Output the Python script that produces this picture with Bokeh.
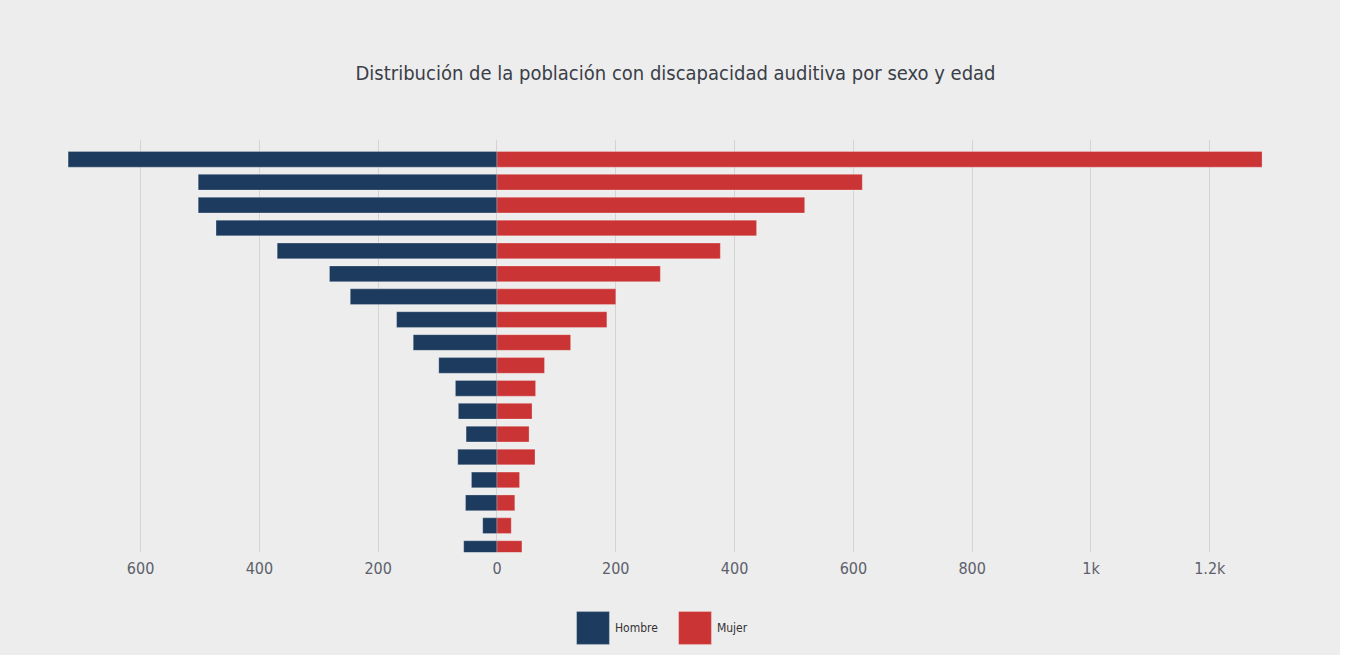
from bokeh.plotting import figure
from bokeh.layouts import column
from bokeh.models import (Range1d, FixedTicker, CustomJSTickFormatter, Legend,
                          LegendItem, Title, ColumnDataSource)
from bokeh.embed import file_html
from bokeh.resources import INLINE

# ---- data (top to bottom) ----
grupos = ["85+", "80-84", "75-79", "70-74", "65-69", "60-64", "55-59", "50-54",
          "45-49", "40-44", "35-39", "30-34", "25-29", "20-24", "15-19", "10-14",
          "5-9", "0-4"]
hombre = [722, 503, 503, 473, 370, 282, 247, 169, 141, 98, 70, 65, 52, 66, 43, 53, 24, 56]
mujer = [1288, 615, 518, 437, 376, 275, 200, 185, 124, 80, 65, 59, 54, 64, 38, 30, 24, 42]
ticks = [-600, -400, -200, 0, 200, 400, 600, 800, 1000, 1200]
series_names = ["Hombre", "Mujer"]

FONT = "DejaVu Sans Condensed"
BG = "#ededed"
C_H = "#1c3b5e"
C_M = "#cb3434"

pos = list(range(len(grupos)))
src = ColumnDataSource(dict(
    y=pos,
    grupo=grupos,
    h=[-v for v in hombre],
    m=mujer,
))

p = figure(width=1340, height=585, output_backend="svg", toolbar_location=None,
           x_range=Range1d(-768.5, 1386.4), y_range=Range1d(17.17, -0.865),
           min_border_left=40, min_border_right=20, min_border_top=139,
           min_border_bottom=33)
p.background_fill_color = BG
p.border_fill_color = BG
p.outline_line_color = None
p.styles = {"background-color": BG}

rh = p.hbar(y="y", left=0, right="h", height=0.685, source=src,
            fill_color=C_H, line_color="#ffffff", line_alpha=0.25, line_width=1)
rm = p.hbar(y="y", left=0, right="m", height=0.685, source=src,
            fill_color=C_M, line_color="#ffffff", line_alpha=0.25, line_width=1)

p.yaxis.visible = False
p.ygrid.visible = False

p.xaxis.ticker = FixedTicker(ticks=ticks)
p.xaxis.formatter = CustomJSTickFormatter(code="""
var v = Math.abs(tick);
if (v >= 1000) { return (v/1000) + 'k'; }
return v.toString();
""")
p.xaxis.axis_line_color = None
p.xaxis.major_tick_line_color = None
p.xaxis.minor_tick_line_color = None
p.xaxis.major_tick_out = 0
p.xaxis.major_tick_in = 0
p.xaxis.minor_tick_out = 0
p.xaxis.major_label_text_font = FONT
p.xaxis.major_label_text_font_size = "16px"
p.xaxis.major_label_text_color = "#5c606b"
p.xaxis.major_label_standoff = 6

p.xgrid.ticker = FixedTicker(ticks=ticks)
p.xgrid.grid_line_color = "#d4d4d4"
p.xgrid.grid_line_width = 1

title = Title(text="Distribución de la población con discapacidad auditiva por sexo y edad",
              align="left", text_font=FONT, text_font_size="20px",
              text_font_style="normal", text_color="#3a3e48", standoff=110, offset=315)
p.add_layout(title, "above")

# ---- legend strip ----
lg = figure(width=1340, height=70, output_backend="svg", toolbar_location=None,
            x_range=Range1d(0, 1), y_range=Range1d(0, 1),
            x_axis_type=None, y_axis_type=None,
            min_border_left=0, min_border_right=0, min_border_top=0, min_border_bottom=0)
lg.background_fill_color = BG
lg.border_fill_color = BG
lg.outline_line_color = None
lg.styles = {"background-color": BG}
lg.xgrid.visible = False
lg.ygrid.visible = False
# legend swatch renderers (kept outside the visible range)
dummy = ColumnDataSource(dict(y=[5], r=[0]))
dh = lg.hbar(y="y", left=0, right="r", height=1, source=dummy, fill_color=C_H,
             line_color="#ffffff", line_alpha=0.25)
dm = lg.hbar(y="y", left=0, right="r", height=1, source=dummy, fill_color=C_M,
             line_color="#ffffff", line_alpha=0.25)

legend = Legend(items=[LegendItem(label=series_names[0], renderers=[dh]),
                       LegendItem(label=series_names[1], renderers=[dm])],
                orientation="horizontal", location=(532, 7),
                glyph_width=41, glyph_height=41, label_standoff=2, spacing=16,
                label_text_font=FONT, label_text_font_size="12px",
                label_text_color="#333333",
                background_fill_alpha=0, border_line_color=None,
                margin=0, padding=10)
lg.add_layout(legend, "center")

layout = column(p, lg, spacing=0)
layout.styles = {"background-color": BG}
open("out.html", "w").write(file_html(layout, INLINE))
